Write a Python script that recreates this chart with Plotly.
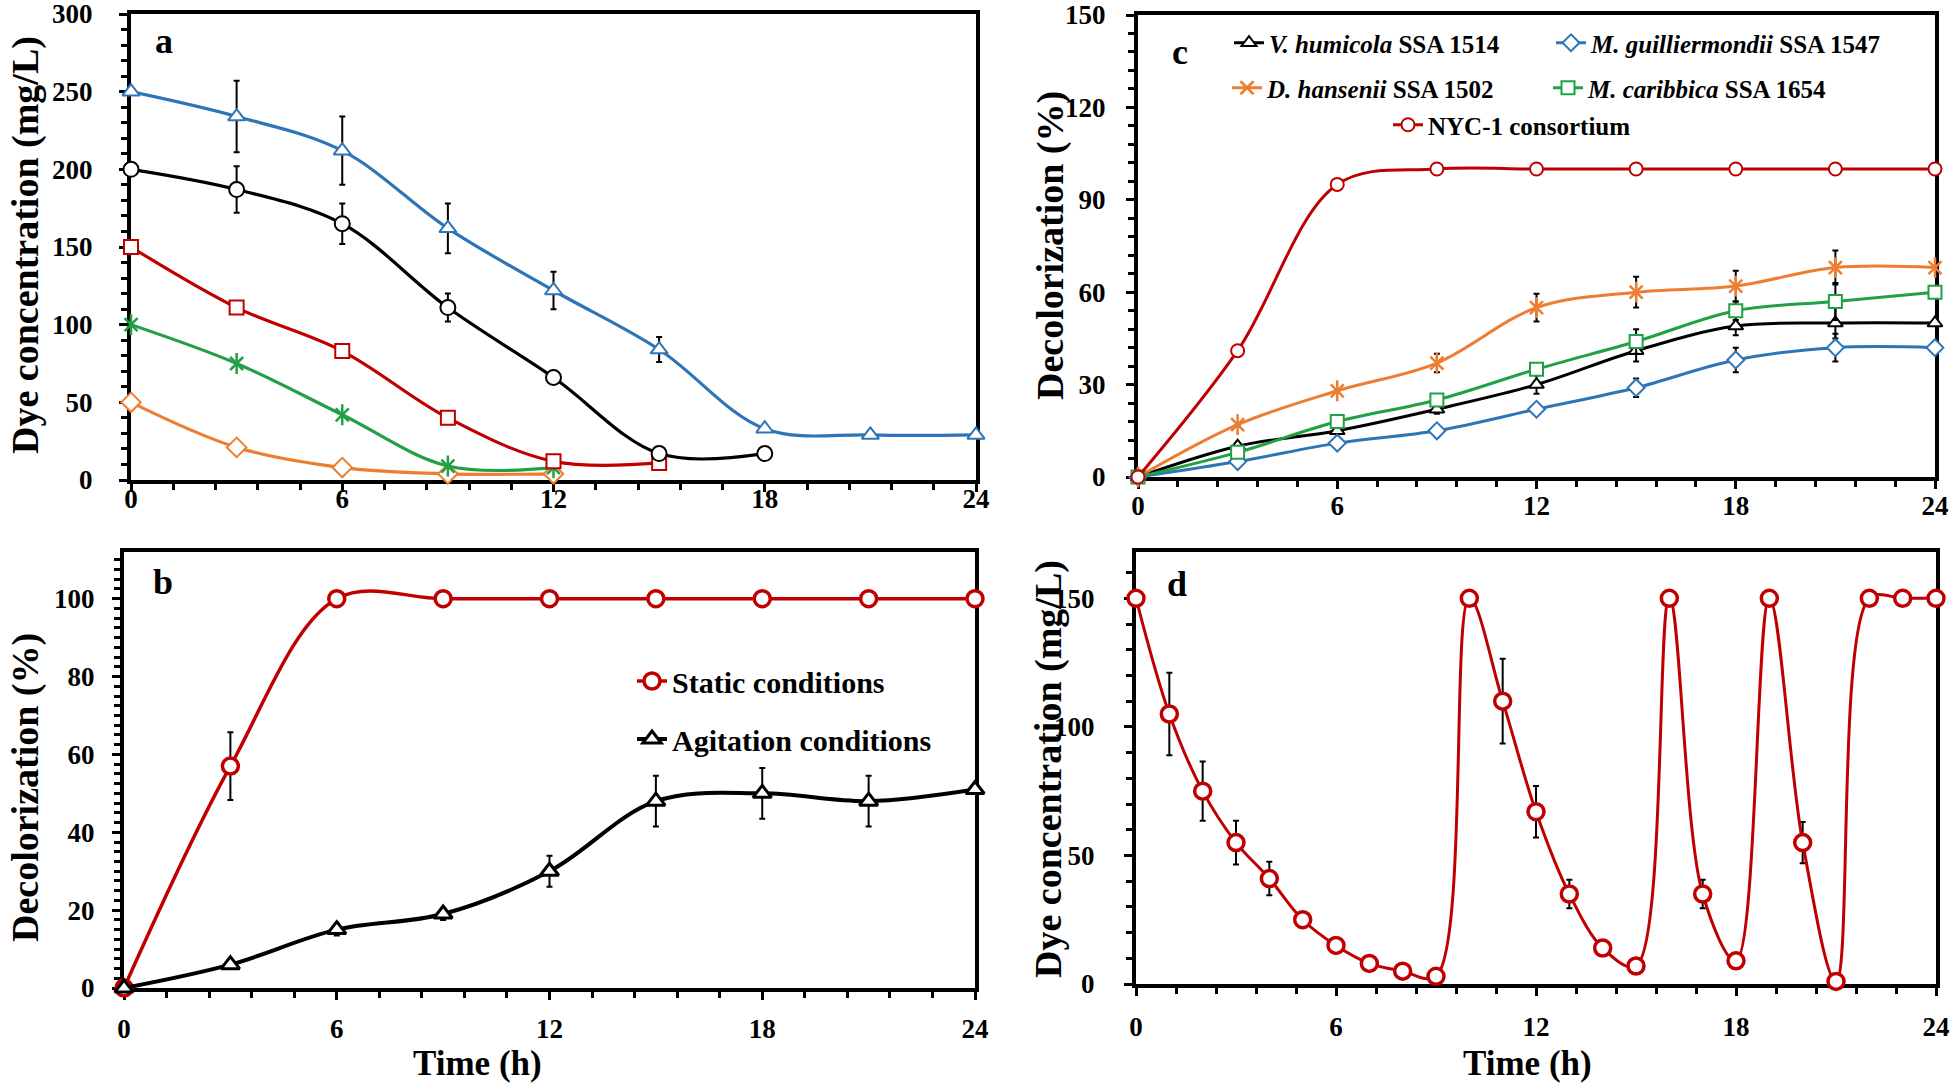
import plotly.graph_objects as go

# Figure fills the whole window; the page body margin is removed after drawing.
OFF = 0
FW, FH = 1953, 1084

# ---------------- data ----------------
hours3 = [0, 3, 6, 9, 12, 15, 18, 21, 24]
hours1 = list(range(25))

# panel a : dye concentration (mg/L) for different initial concentrations
a_250 = [250, 234, 212, 162, 122, 84, 33, 29, 29]
a_250_err = [0, 23, 22, 16, 12, 8, 2, 0, 0]
a_200 = [200, 187, 165, 111, 66, 17, 17]
a_200_err = [0, 15, 13, 9, 2, 0, 0]
a_150 = [150, 111, 83, 40, 12, 11]
a_150_err = [0, 2, 0, 0, 0, 0]
a_100 = [100, 75, 42, 9, 8]
a_50 = [50, 21, 8, 4, 4]

# panel b : decolorization (%)
b_static = [0, 57, 100, 100, 100, 100, 100, 100, 100]
b_static_err = [0, 8.7, 0, 0, 0, 0, 0, 0, 0]
b_agit = [0, 6, 15, 19, 30, 48, 50, 48, 51]
b_agit_err = [0, 1, 1.5, 1.5, 4, 6.5, 6.5, 6.5, 0]

# panel c : decolorization (%) by strains
c_vh = [0, 10, 15, 22, 30, 41, 49, 50, 50]
c_vh_err = [0, 1, 1, 1.5, 3, 3.5, 3, 5, 0]
c_mg = [0, 5, 11, 15, 22, 29, 38, 42, 42]
c_mg_err = [0, 0, 0, 0, 0, 3, 4, 4.5, 0]
c_dh = [0, 17, 28, 37, 55, 60, 62, 68, 68]
c_dh_err = [0, 0, 0, 3, 4.5, 5, 5, 5.5, 0]
c_mc = [0, 8, 18, 25, 35, 44, 54, 57, 60]
c_mc_err = [0, 0, 0, 0, 2, 4, 3, 6, 0]
c_nyc = [0, 41, 95, 100, 100, 100, 100, 100, 100]

# panel d : repeated-batch dye concentration (mg/L)
d_vals = [150, 105, 75, 55, 41, 25, 15, 8, 5, 3, 150, 110, 67, 35, 14, 7,
          150, 35, 9, 150, 55, 1, 150, 150, 150]
d_err = [0, 16, 11.5, 8.5, 6.5, 3, 1, 0, 0, 0, 0, 16.5, 10, 5.5, 0, 0,
         0, 5.5, 0, 0, 8, 0, 0, 0, 0]

x_ticks = [0, 6, 12, 18, 24]

# ---------------- styles ----------------
RED = "#C00000"
BLUE = "#2E75B6"
GREEN = "#21A045"
ORANGE = "#ED7D31"
BLACK = "#000000"
SERIF = "Liberation Serif"


def fx(p):
    return (p - OFF) / FW


def fy(p):
    return 1 - (p - OFF) / FH


fig = go.Figure()


def err(arr):
    return dict(type="data", array=arr, visible=True, color="black",
                thickness=2, width=3)


def add(x, y, color, symbol, size, lw, mlw, ax, e=None, name=None,
        legend=None, fill="white"):
    fig.add_trace(go.Scatter(
        x=x, y=y, mode="lines+markers",
        line=dict(color=color, width=lw, shape="spline", smoothing=1),
        marker=dict(symbol=symbol, size=size, color=fill,
                    line=dict(color=color, width=mlw)),
        error_y=err(e) if e is not None else None,
        xaxis="x" + ax, yaxis="y" + ax, cliponaxis=False,
        name=name if name else "", showlegend=legend is not None,
        legend=legend if legend else "legend", hoverinfo="x+y"))


def add_star_overlay(x, y, color, size, mlw, ax):
    fig.add_trace(go.Scatter(
        x=x, y=y, mode="markers",
        marker=dict(symbol="line-ns", size=size, color=color,
                    line=dict(color=color, width=mlw)),
        xaxis="x" + ax, yaxis="y" + ax, cliponaxis=False,
        showlegend=False, hoverinfo="skip"))


# panel a
add(hours3[:5], a_50, ORANGE, "diamond", 15, 3.2, 2, "")
add(hours3[:5], a_100, GREEN, "x-thin", 13, 3.2, 2.5, "", fill=GREEN)
add_star_overlay(hours3[:5], a_100, GREEN, 15, 2.5, "")
add(hours3[:6], a_150, RED, "square", 14, 3.2, 2, "", e=a_150_err)
add(hours3[:7], a_200, BLACK, "circle", 15, 3.2, 2, "", e=a_200_err)
add(hours3, a_250, BLUE, "triangle-up", 15, 3.2, 2, "", e=a_250_err)

# panel b
add(hours3, b_static, RED, "circle", 16, 3.5, 3.5, "2", e=b_static_err,
    name="Static conditions", legend="legend6")
add(hours3, b_agit, BLACK, "triangle-up", 16, 4, 3, "2", e=b_agit_err,
    name="Agitation conditions", legend="legend7")

# panel c
add(hours3, c_vh, BLACK, "triangle-up", 13, 3, 2, "3", e=c_vh_err,
    name="<b><i>V. humicola</i> SSA 1514</b>", legend="legend")
add(hours3, c_mg, BLUE, "diamond", 13, 3, 2, "3", e=c_mg_err,
    name="<b><i>M. guilliermondii</i> SSA 1547</b>", legend="legend2")
add(hours3, c_dh, ORANGE, "x-thin", 13, 3, 2.5, "3", e=c_dh_err,
    name="<b><i>D. hansenii</i> SSA 1502</b>", legend="legend3", fill=ORANGE)
add_star_overlay(hours3, c_dh, ORANGE, 15, 2.5, "3")
add(hours3, c_mc, GREEN, "square", 13, 3, 2, "3", e=c_mc_err,
    name="<b><i>M. caribbica</i> SSA 1654</b>", legend="legend4")
add(hours3, c_nyc, RED, "circle", 13, 3, 2, "3",
    name="<b>NYC-1 consortium</b>", legend="legend5")

# panel d
add(hours1, d_vals, RED, "circle", 16, 3, 3.5, "4", e=d_err)

# ---------------- axes ----------------
tickfont = dict(family=SERIF, size=27, color="black", weight="bold")


def xaxis(dom, anchor, standoff):
    return dict(domain=dom, anchor=anchor, range=[0, 24], tickvals=x_ticks,
                ticktext=[str(v) for v in x_ticks],
                showline=True, mirror=True, linewidth=4, linecolor="black",
                ticks="outside", ticklen=8, tickwidth=3, tickcolor="black",
                minor=dict(dtick=1.2, tick0=0, ticks="outside", ticklen=6,
                           tickwidth=3, tickcolor="black"),
                showgrid=False, zeroline=False, tickfont=tickfont,
                ticklabelstandoff=standoff, ticklabeloverflow="allow",
                automargin=False,
                layer="below traces", fixedrange=True)


def yaxis(dom, anchor, rng, dtick, minor, standoff):
    return dict(domain=dom, anchor=anchor, range=rng, tick0=0, dtick=dtick,
                showline=True, mirror=True, linewidth=4, linecolor="black",
                ticks="outside", ticklen=8, tickwidth=3, tickcolor="black",
                minor=dict(dtick=minor, tick0=0, ticks="outside", ticklen=6,
                           tickwidth=3, tickcolor="black"),
                showgrid=False, zeroline=False, tickfont=tickfont,
                ticklabelstandoff=standoff, ticklabeloverflow="allow",
                automargin=False,
                layer="below traces", fixedrange=True)


A_X = [fx(131), fx(976)]
A_Y = [fy(480), fy(14)]
B_X = [fx(124), fx(975)]
B_Y = [fy(988), fy(552)]
C_X = [fx(1138), fx(1935)]
C_Y = [fy(477), fy(15)]
D_X = [fx(1136), fx(1936)]
D_Y = [fy(984), fy(552)]


def legend_at(xp, yp, size, weight="normal"):
    return dict(x=fx(xp), y=fy(yp), xanchor="left", yanchor="middle",
                orientation="v", bgcolor="rgba(0,0,0,0)", borderwidth=0,
                font=dict(family=SERIF, size=size, color="black",
                          weight=weight),
                itemwidth=30)


LEG_C = 25
LEG_B = 30

annotations = []


def ann(text, xp, yp, size, angle=0, weight="bold"):
    annotations.append(dict(text=text, x=fx(xp), y=fy(yp), xref="paper",
                            yref="paper", showarrow=False, textangle=angle,
                            xanchor="center", yanchor="middle",
                            font=dict(family=SERIF, size=size, color="black",
                                      weight=weight)))


ann("a", 164, 41, 36)
ann("b", 163, 582, 36)
ann("c", 1180, 52, 36)
ann("d", 1177, 584, 36)
ann("Dye concentration (mg/L)", 25, 245, 38, -90)
ann("Decolorization (%)", 25, 788, 38, -90)
ann("Decolorization (%)", 1050, 246, 38, -90)
ann("Dye concentration (mg/L)", 1048, 769, 38, -90)
ann("Time (h)", 477, 1063, 35)
ann("Time (h)", 1527, 1063, 35)

fig.update_layout(
    width=FW, height=FH,
    margin=dict(l=0, r=0, t=0, b=0, pad=0, autoexpand=False),
    paper_bgcolor="white", plot_bgcolor="white",
    xaxis=xaxis(A_X, "y", -16), yaxis=yaxis(A_Y, "x", [0, 300], 50, 10, 21),
    xaxis2=xaxis(B_X, "y2", 6),
    yaxis2=yaxis(B_Y, "x2", [0, 112], 20, 2.5, 12),
    xaxis3=xaxis(C_X, "y3", -6),
    yaxis3=yaxis(C_Y, "x3", [0, 150], 30, 6, 15),
    xaxis4=xaxis(D_X, "y4", 8),
    yaxis4=yaxis(D_Y, "x4", [0, 168], 50, 10, 24),
    legend=legend_at(1229, 43, LEG_C),
    legend2=legend_at(1551, 43, LEG_C),
    legend3=legend_at(1227, 88, LEG_C),
    legend4=legend_at(1548, 88, LEG_C),
    legend5=legend_at(1388, 125, LEG_C),
    legend6=legend_at(632, 681, LEG_B, "bold"),
    legend7=legend_at(632, 739, LEG_B, "bold"),
    annotations=annotations,
    showlegend=True,
)

fig.write_html("out.html", config={"displayModeBar": False},
               post_script="document.body.style.margin='0';")
